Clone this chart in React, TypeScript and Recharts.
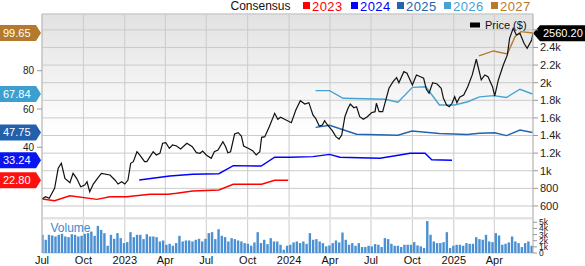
import {
  Bar, CartesianGrid, ComposedChart, Line, ReferenceArea, ReferenceLine, XAxis, YAxis,
} from "recharts";

const FONT = "'Liberation Sans', Arial, Helvetica, sans-serif";
const DAY = 86400000;
const day = (s: string) => Date.parse(s + "T00:00:00Z");

const T0 = day("2022-07-01");
const T1 = day("2025-06-26");

// quarter ticks on the time axis
const quarterTicks = [
  "2022-07-01", "2022-10-01", "2023-01-01", "2023-04-01", "2023-07-01", "2023-10-01",
  "2024-01-01", "2024-04-01", "2024-07-01", "2024-10-01", "2025-01-01", "2025-04-01",
];
const MONTHS = ["Jan", "Feb", "Mar", "Apr", "May", "Jun", "Jul", "Aug", "Sep", "Oct", "Nov", "Dec"];

// share price ($)
const priceDates = [
  "2022-07-01", "2022-07-09", "2022-07-17", "2022-07-29", "2022-08-06", "2022-08-13", "2022-08-21",
  "2022-09-01", "2022-09-08", "2022-09-16", "2022-09-25", "2022-10-04", "2022-10-09", "2022-10-15",
  "2022-10-23", "2022-11-03", "2022-11-10", "2022-11-29", "2022-12-10", "2022-12-17", "2022-12-25",
  "2023-01-01", "2023-01-08", "2023-01-14", "2023-01-20", "2023-01-28", "2023-02-03", "2023-02-14",
  "2023-02-19", "2023-03-05", "2023-03-12", "2023-03-20", "2023-03-26", "2023-04-02", "2023-04-10",
  "2023-04-17", "2023-04-26", "2023-05-05", "2023-05-19", "2023-05-31", "2023-06-09", "2023-06-17",
  "2023-06-23", "2023-07-01", "2023-07-12", "2023-07-19", "2023-07-27", "2023-08-07", "2023-08-13",
  "2023-08-18", "2023-08-24", "2023-09-02", "2023-09-10", "2023-09-17", "2023-09-22", "2023-10-02",
  "2023-10-12", "2023-10-20", "2023-10-28", "2023-11-01", "2023-11-08", "2023-11-18", "2023-11-30",
  "2023-12-07", "2023-12-13", "2023-12-22", "2024-01-06", "2024-01-16", "2024-01-26", "2024-02-05",
  "2024-02-14", "2024-02-23", "2024-02-29", "2024-03-08", "2024-03-15", "2024-03-20", "2024-03-25",
  "2024-04-06", "2024-04-14", "2024-04-21", "2024-04-27", "2024-05-04", "2024-05-11", "2024-05-16",
  "2024-05-24", "2024-05-30", "2024-06-06", "2024-06-14", "2024-06-23", "2024-07-02", "2024-07-10",
  "2024-07-13", "2024-07-19", "2024-07-27", "2024-08-03", "2024-08-10", "2024-08-19", "2024-08-27",
  "2024-09-01", "2024-09-12", "2024-09-19", "2024-10-01", "2024-10-10", "2024-10-19", "2024-10-26",
  "2024-11-01", "2024-11-07", "2024-11-15", "2024-11-25", "2024-12-04", "2024-12-09", "2024-12-16",
  "2024-12-22", "2024-12-28", "2025-01-03", "2025-01-08", "2025-01-14", "2025-01-23", "2025-02-01",
  "2025-02-11", "2025-02-20", "2025-03-03", "2025-03-11", "2025-03-18", "2025-03-28", "2025-04-02",
  "2025-04-10", "2025-04-21", "2025-04-30", "2025-05-05", "2025-05-13", "2025-05-20", "2025-05-28",
  "2025-06-06", "2025-06-13", "2025-06-23", "2025-06-26",
];
const priceValues = [
  680, 705, 687, 800, 1028, 1085, 914,
  864, 971, 914, 819, 838, 875, 762,
  849, 925, 971, 952, 895, 849, 875,
  849, 895, 1085, 1103, 1216, 1179, 1103,
  1103, 1216, 1179, 1198, 1312, 1319, 1255,
  1292, 1281, 1247, 1312, 1273, 1205, 1198,
  1224, 1179, 1141, 1216, 1236, 1330, 1273,
  1205, 1216, 1417, 1432, 1395, 1281, 1255,
  1228, 1179, 1216, 1380, 1387, 1500, 1652,
  1584, 1607, 1584, 1546, 1690, 1796, 1758,
  1773, 1633, 1596, 1508, 1520, 1569, 1528,
  1455, 1387, 1360, 1406, 1614, 1709, 1758,
  1716, 1727, 1614, 1584, 1614, 1659, 1671,
  1766, 1671, 1671, 1804, 1937, 2012, 2057,
  2000, 2125, 2107, 1974, 2088, 2068, 2050,
  1925, 1880, 2000, 1985, 1937, 1823, 1747,
  1727, 1766, 1841, 1773, 1834, 1860, 1955,
  2088, 2266, 2031, 2088, 2068, 1955, 1849,
  2031, 2201, 2315, 2504, 2618, 2542, 2561,
  2448, 2391, 2485, 2560.2,
];

// consensus EPS estimates per fiscal year
const eps2023Dates = [
  "2022-07-02", "2022-07-29", "2022-09-01", "2022-10-31", "2022-11-29", "2023-01-05", "2023-02-26",
  "2023-04-07", "2023-04-26", "2023-06-01", "2023-07-29", "2023-08-30", "2023-11-01", "2023-11-30",
  "2023-12-30",
];
const eps2023 = [13.0, 12.1, 14.7, 12.8, 14.2, 14.2, 15.5, 15.5, 16.0, 17.2, 17.7, 20.7, 20.7, 22.8, 22.8];

const eps2024Dates = [
  "2023-02-02", "2023-04-11", "2023-06-01", "2023-07-29", "2023-08-30", "2023-10-31", "2023-11-30",
  "2024-01-03", "2024-02-23", "2024-03-31", "2024-04-23", "2024-07-21", "2024-09-03", "2024-09-26",
  "2024-10-29", "2024-11-13", "2024-12-28",
];
const eps2024 = [22.9, 25.0, 25.9, 26.2, 30.4, 30.2, 34.8, 34.8, 35.1, 36.3, 34.8, 34.3, 36.0, 36.9, 36.9, 33.5, 33.24];

const eps2025Dates = [
  "2024-02-29", "2024-03-31", "2024-05-30", "2024-08-30", "2024-09-30", "2024-11-30", "2025-01-31",
  "2025-02-27", "2025-04-02", "2025-04-28", "2025-05-28", "2025-06-25",
];
const eps2025 = [50.4, 51.5, 46.8, 46.3, 48.5, 47.2, 46.7, 47.3, 47.6, 46.1, 49.0, 47.75];

const eps2026Dates = [
  "2024-02-29", "2024-03-31", "2024-04-30", "2024-08-01", "2024-08-30", "2024-10-01", "2024-10-31",
  "2024-11-30", "2025-01-03", "2025-02-01", "2025-02-27", "2025-03-30", "2025-04-28", "2025-05-28",
  "2025-06-25",
];
const eps2026 = [69.6, 69.6, 65.6, 65.1, 63.5, 71.3, 71.6, 62.1, 62.1, 63.8, 66.3, 67.0, 66.0, 70.3, 67.84];

const eps2027Dates = ["2025-02-26", "2025-03-30", "2025-04-30", "2025-05-17", "2025-05-30", "2025-06-26"];
const eps2027 = [87.7, 90.3, 88.7, 97.8, 100.4, 99.65];

// volume (k), one bar per reading, first on volStart and last on volEnd
const volStart = "2022-07-02";
const volEnd = "2025-06-23";
const volumes = [
  2.96, 2.15, 2.96, 2.85, 2.69, 2.96, 3.12, 2.69, 2.58, 3.06, 2.96, 2.69, 2.8, 3.12, 3.23, 3.49,
  2.8, 4.41, 3.76, 3.23, 1.18, 2.96, 2.31, 3.23, 2.42, 1.61, 1.77, 3.39, 2.58, 2.96, 2.96, 2.26,
  3.06, 2.69, 2.69, 2.58, 1.88, 2.04, 1.34, 1.5, 1.18, 1.61, 2.8, 1.88, 2.04, 2.04, 1.88, 2.15,
  2.31, 1.88, 2.31, 3.23, 3.39, 2.26, 3.87, 2.8, 2.58, 1.88, 2.42, 2.26, 2.04, 1.88, 1.61, 1.5,
  1.18, 1.72, 3.39, 1.61, 2.15, 1.45, 2.42, 1.88, 1.88, 1.34, 0.54, 1.18, 1.34,
  1.72, 1.88, 1.61, 1.88, 1.5, 3.23, 2.15, 2.26, 1.88, 1.61, 1.08, 1.24, 1.61, 2.04, 1.72, 3.33,
  2.15, 1.34, 1.61, 1.18, 1.61, 0.97, 0.97, 1.18, 1.08, 1.45, 1.34, 0.97, 2.42, 2.26, 1.5, 1.18,
  1.18, 0.97, 1.34, 1.34, 1.34, 1.77, 1.24, 1.08, 0.81, 5.2, 2.96, 1.88, 1.61, 1.61, 1.77, 3.39,
  0.81, 1.18, 1.34, 1.34, 1.18, 1.61, 1.5, 1.5, 2.58, 2.26, 2.15, 2.96, 1.88, 1.77, 3.23, 2.85,
  1.34, 1.5, 1.72, 2.69, 1.88, 1.61, 0.97, 1.61, 1.88, 1.18,
];
const volTicks = [0, 1, 2, 3, 4, 5];

// left-side consensus tags
const tagValues = [99.65, 67.84, 47.75, 33.24, 22.8];
const tagColors = ["#b5792b", "#3d9fd0", "#2260ab", "#0a14f0", "#ff1010"];
const lastPrice = 2560.2;

const C2023 = "#ff0000";
const C2024 = "#0000ff";
const C2025 = "#2463ad";
const C2026 = "#45a3d3";
const C2027 = "#b8792d";

const rows = (dates: string[], vals: number[]) => dates.map((d, i) => ({ t: day(d), v: vals[i] }));
const volStep = (day(volEnd) - day(volStart)) / (volumes.length - 1);
const volRows = volumes.map((v, i) => ({ t: day(volStart) + i * volStep, vol: v }));

function fmtTick(t: number) {
  const d = new Date(t);
  const m = d.getUTCMonth();
  return m === 0 ? String(d.getUTCFullYear()) : MONTHS[m];
}

function LeftTag({ viewBox, text, color }: any) {
  const y = viewBox.y;
  return (
    <g>
      <path d={`M0,${y - 8}H36L41,${y}L36,${y + 8}H0Z`} fill={color} />
      <text x={3} y={y + 4} fill="#fff" fontSize={11} fontFamily={FONT}>{text}</text>
    </g>
  );
}

function PriceTag({ viewBox, text }: any) {
  const y = viewBox.y;
  return (
    <g>
      <path d={`M533,${y}L540,${y - 8}H585V${y + 8}H540Z`} fill="#000" />
      <text x={543} y={y + 4} fill="#fff" fontSize={11} fontFamily={FONT}>{text}</text>
    </g>
  );
}

// volume ticks sit just right of the plot, squeezed together
function VolTick({ y, payload }: any) {
  const v = payload.value;
  return (
    <g>
      <line x1={533} x2={537} y1={y} y2={y} stroke="#999" />
      <text x={539} y={y + 3} fontSize={8.5} fill="#222" fontFamily={FONT}>{v === 0 ? "0" : `${v}k`}</text>
    </g>
  );
}

// fixed-width volume bar centred on its date
function VolBar({ x, y, width, height }: any) {
  if (!height || height <= 0) return null;
  const cx = x + (width || 0) / 2;
  return <rect x={cx - 1.2} y={y} width={2.4} height={height} fill="#4a90d2" />;
}

const legendYears = [
  { label: "2023", color: C2023, x: 303 },
  { label: "2024", color: C2024, x: 351 },
  { label: "2025", color: C2025, x: 397 },
  { label: "2026", color: C2026, x: 444 },
  { label: "2027", color: C2027, x: 491 },
];

export default function App() {
  const tick = { fontSize: 10, fill: "#222", fontFamily: FONT };
  return (
    <div style={{ position: "absolute", left: 0, top: 0, width: 585, height: 266, background: "#fff" }}>
      <svg width={0} height={0} style={{ position: "absolute" }}>
        <defs>
          <linearGradient id="bg" x1="0" y1="0" x2="0" y2="1">
            <stop offset="0" stopColor="#e2e2e2" />
            <stop offset="0.5" stopColor="#ffffff" />
            <stop offset="1" stopColor="#ffffff" />
          </linearGradient>
        </defs>
      </svg>
      <ComposedChart width={585} height={266} data={volRows} margin={{ top: 14, right: -1, bottom: 0, left: 0 }}>
        <CartesianGrid yAxisId="px" stroke="#cbcbcb" fill="url(#bg)" />
        <XAxis
          type="number" dataKey="t" domain={[T0, T1]} allowDataOverflow
          ticks={quarterTicks.map(day)} tickFormatter={fmtTick}
          axisLine={false} tickLine={false} tickSize={0} tickMargin={3} height={13}
          tick={{ fontSize: 11, fill: "#111", fontFamily: FONT }} interval={0}
        />
        <YAxis
          yAxisId="eps" domain={[-15.2, 109.6]} allowDataOverflow ticks={[40, 60, 80]} width={42}
          tick={tick} tickSize={5} tickMargin={3} axisLine={{ stroke: "#bdbdbd" }} tickLine={{ stroke: "#999" }}
        />
        <YAxis
          yAxisId="px" orientation="right" domain={[66, 2780]} allowDataOverflow width={52}
          ticks={[600, 800, 1000, 1200, 1400, 1600, 1800, 2000, 2200, 2400, 2600]}
          tickFormatter={(v: number) => (v === 2600 ? "" : v >= 1000 ? `${v / 1000}k` : String(v))}
          tick={{ fontSize: 11, fill: "#222", fontFamily: FONT }} tickSize={5} tickMargin={2}
          axisLine={{ stroke: "#bdbdbd" }} tickLine={{ stroke: "#999" }} interval={0}
        />
        <YAxis
          yAxisId="vol" orientation="right" domain={[0, 38.9]} allowDataOverflow ticks={volTicks}
          width={1} tick={<VolTick />} axisLine={false} tickLine={false} interval={0}
        />
        <ReferenceLine yAxisId="px" y={2780} stroke="#cbcbcb" />
        <ReferenceArea yAxisId="px" y1={447} y2={475} fill="#e3e3e3" fillOpacity={1} stroke="none" />
        <Bar yAxisId="vol" dataKey="vol" fill="#4a90d2" shape={<VolBar />} isAnimationActive={false} />
        <Line yAxisId="eps" data={rows(eps2023Dates, eps2023)} dataKey="v" stroke={C2023} strokeWidth={1.4} dot={false} isAnimationActive={false} />
        <Line yAxisId="eps" data={rows(eps2024Dates, eps2024)} dataKey="v" stroke={C2024} strokeWidth={1.4} dot={false} isAnimationActive={false} />
        <Line yAxisId="eps" data={rows(eps2025Dates, eps2025)} dataKey="v" stroke={C2025} strokeWidth={1.4} dot={false} isAnimationActive={false} />
        <Line yAxisId="eps" data={rows(eps2026Dates, eps2026)} dataKey="v" stroke={C2026} strokeWidth={1.4} dot={false} isAnimationActive={false} />
        <Line yAxisId="eps" data={rows(eps2027Dates, eps2027)} dataKey="v" stroke={C2027} strokeWidth={1.4} dot={false} isAnimationActive={false} />
        <Line yAxisId="px" data={rows(priceDates, priceValues)} dataKey="v" stroke="#111" strokeWidth={1.2} dot={false} isAnimationActive={false} />
        {tagValues.map((v, i) => (
          <ReferenceLine key={v} yAxisId="eps" y={v} stroke="none" label={<LeftTag text={v.toFixed(2)} color={tagColors[i]} />} />
        ))}
        <ReferenceLine yAxisId="px" y={lastPrice} stroke="none" label={<PriceTag text={lastPrice.toFixed(2)} />} />
      </ComposedChart>
      <svg width={585} height={266} style={{ position: "absolute", left: 0, top: 0, pointerEvents: "none" }} fontFamily={FONT}>
        <text x={230.5} y={10} fontSize={12} fill="#111">Consensus</text>
        {legendYears.map((l) => (
          <g key={l.label}>
            <rect x={l.x} y={2} width={7} height={7} fill={l.color} />
            <text x={l.x + 9} y={11} fontSize={13} letterSpacing={0.4} fill={l.color}>{l.label}</text>
          </g>
        ))}
        <rect x={470} y={22.5} width={10} height={5} fill="#000" />
        <text x={485} y={28.5} fontSize={11} fill="#111">Price ($)</text>
        <text x={50.5} y={232} fontSize={12} fill="#3b8bd2">Volume</text>
      </svg>
    </div>
  );
}
